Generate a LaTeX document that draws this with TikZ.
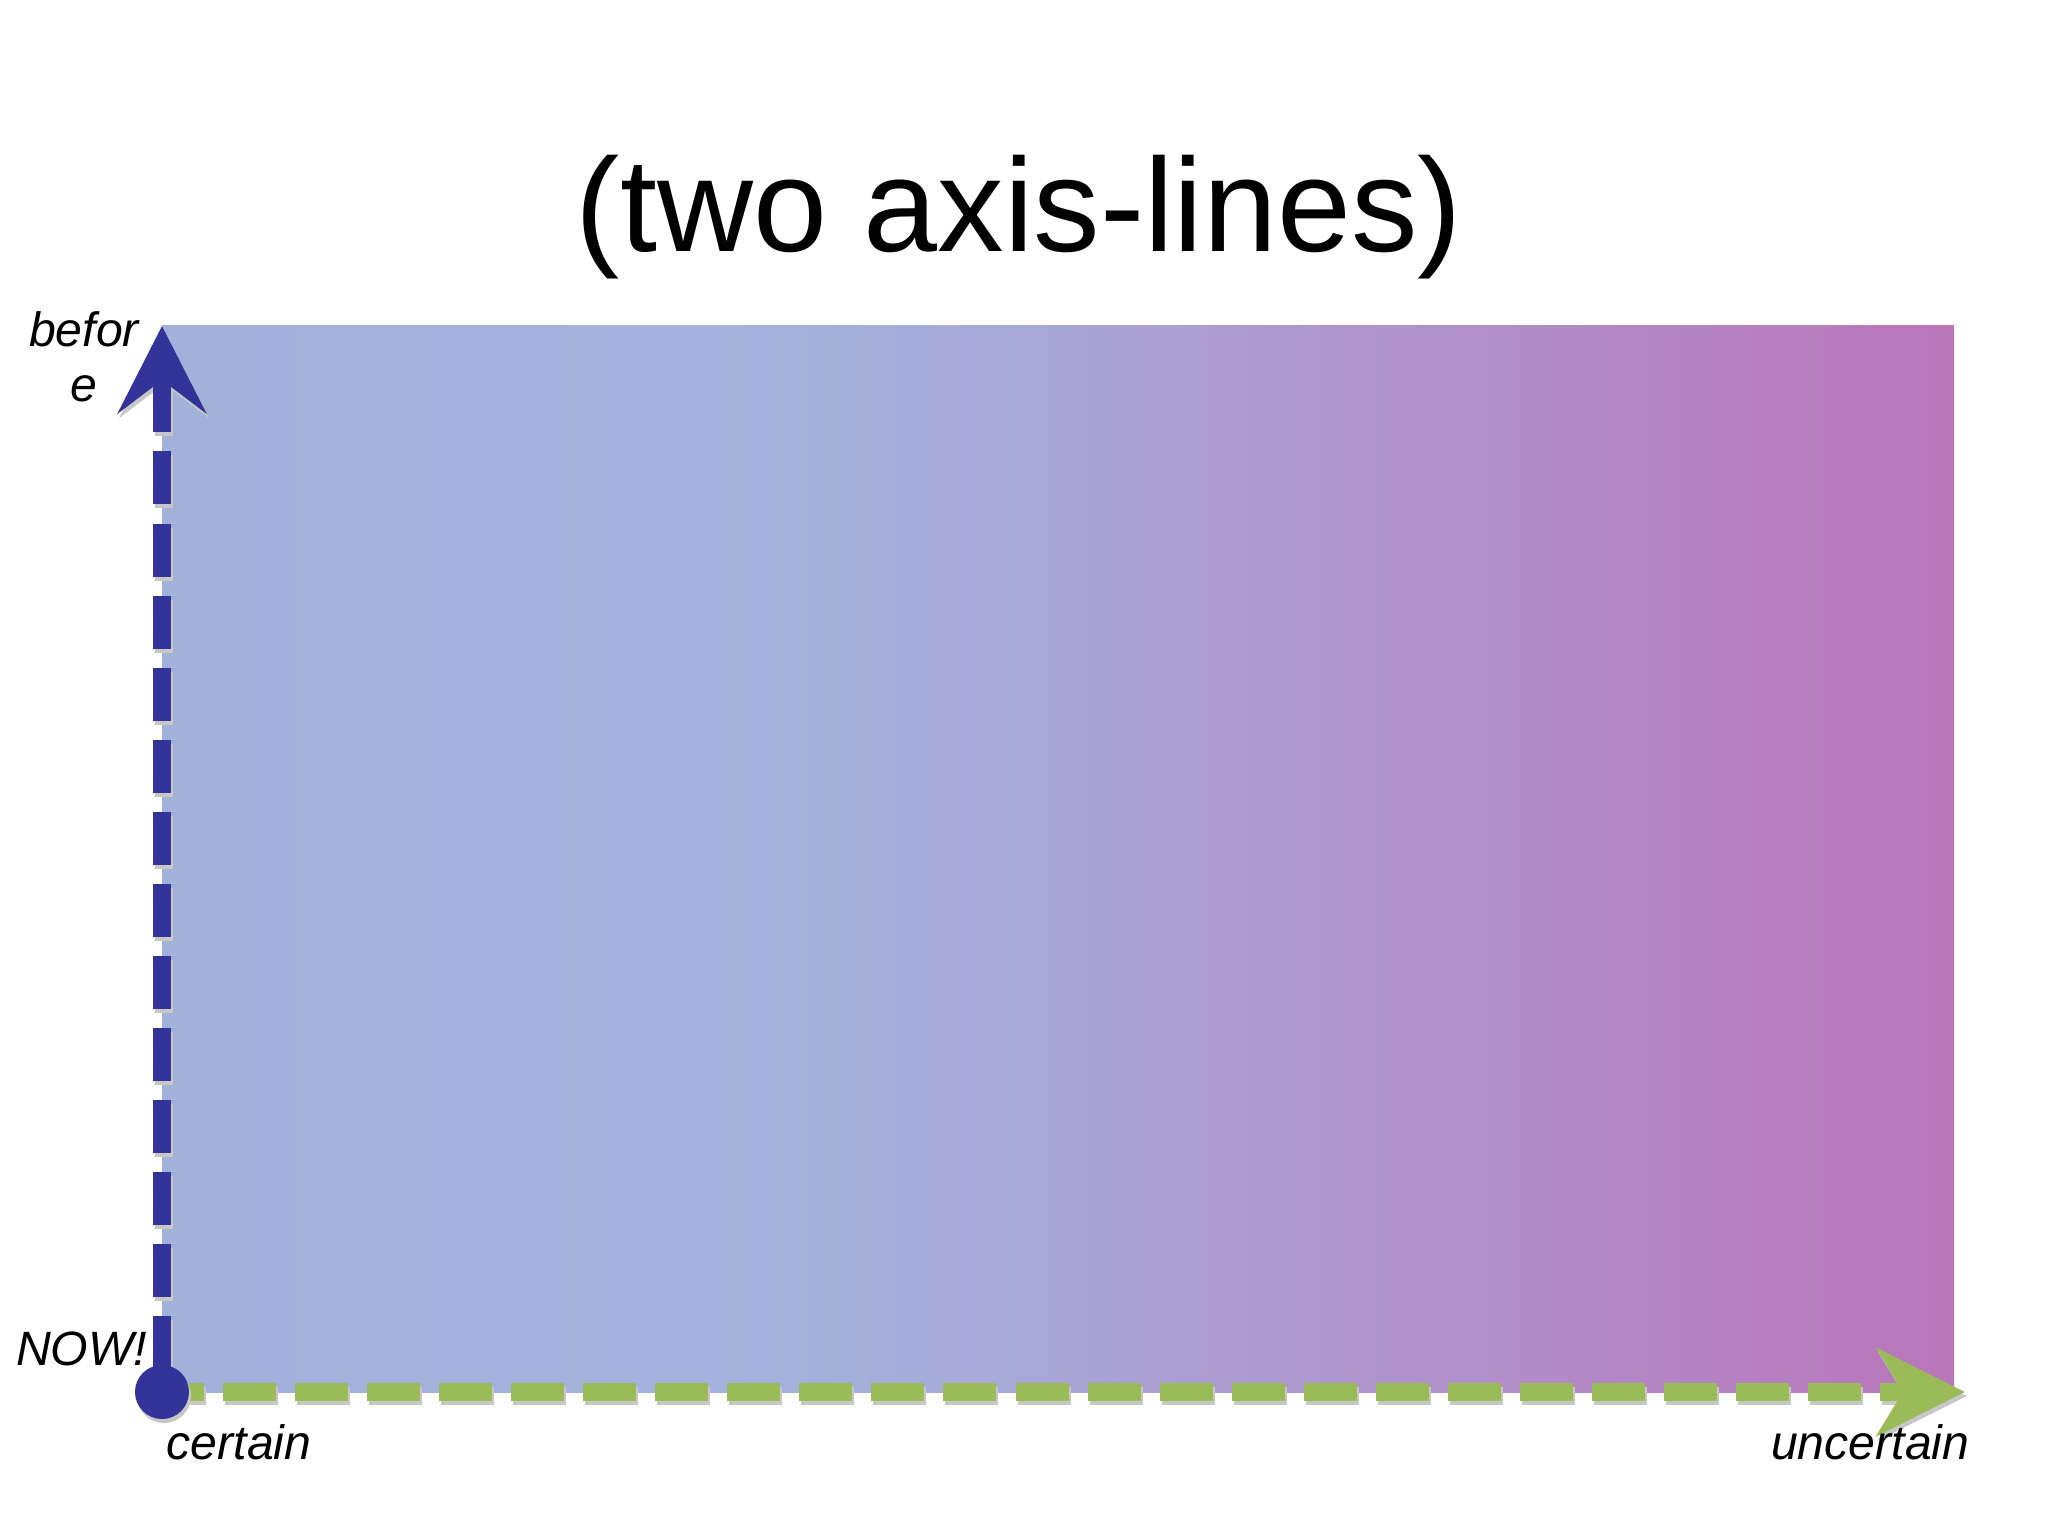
\documentclass[tikz,border=0pt]{standalone}
\usepackage{fontspec}
\setmainfont{Liberation Sans}
\usepackage{xcolor}
\usetikzlibrary{arrows.meta}

\definecolor{axisblue}{HTML}{333399}
\definecolor{axisgreen}{HTML}{9BBB59}
\definecolor{fadeblue}{HTML}{A1B1DA}
\definecolor{fadebluetwo}{HTML}{A4B3DD}
\definecolor{fademid}{HTML}{A7A9D7}
\definecolor{fadelilac}{HTML}{AE98CC}
\definecolor{fadepurple}{HTML}{B976B8}

\pgfdeclarehorizontalshading{timefade}{100bp}{color(0bp)=(fadeblue); color(25bp)=(fadeblue); color(40bp)=(fadebluetwo); color(48.5bp)=(fademid); color(57bp)=(fadelilac); color(75bp)=(fadepurple); color(100bp)=(fadepurple)}

\begin{document}
\begin{tikzpicture}[x=0.01cm,y=-0.01cm]
\tikzset{every node/.style={inner sep=0pt}}
\tikzset{axisline/.style={line width=0.18cm, dash pattern=on 0.53cm off 0.19cm},
  axisshadow/.style={axisline, draw=black!22},
  axislabel/.style={font=\fontsize{13.7}{15.6}\selectfont\itshape, anchor=base}}
\useasboundingbox (0,0) rectangle (2048,1536);
% shaded field
\shade[shading=timefade] (162,325) rectangle (1954,1392);
\coordinate (origin) at (162,1392);
\coordinate (beforetip) at (162,326);
\coordinate (uncertaintip) at (1965,1392);
% shadows
\draw [axisshadow, dash phase=0.11cm, -{Stealth[length=0.88cm, width=0.87cm, inset=0.26cm]}] ([shift={(2,4)}]origin) -- ([shift={(2,4)}]uncertaintip);
\draw [axisshadow, dash phase=0.49cm, -{Stealth[length=0.87cm, width=0.88cm, inset=0.33cm]}] ([shift={(2,4)}]origin) -- ([shift={(2,4)}]beforetip);
% axes
\draw [axisline, axisgreen, dash phase=0.11cm, -{Stealth[length=0.88cm, width=0.87cm, inset=0.26cm]}] (origin) -- (uncertaintip);
\draw [axisline, axisblue, dash phase=0.49cm, -{Stealth[length=0.87cm, width=0.88cm, inset=0.33cm]}] (origin) -- (beforetip);
\node [circle, fill=black!22, minimum size=0.54cm] (nowshadow) at ([shift={(2,4)}]origin) {};
\node [circle, fill=axisblue, minimum size=0.54cm] (now) at (origin) {};
% labels
\node [font=\fontsize{37.8}{45}\selectfont, anchor=base] (title) at (1019,251) {(two axis-lines)};
\node [axislabel, align=center] (beforelabel) at (84,401) {befor\\e};
\node [axislabel, anchor=base east] (nowlabel) at (148,1365) {NOW!};
\node [axislabel, anchor=base west] (certainlabel) at (166,1459) {certain};
\node [axislabel, anchor=base east] (uncertainlabel) at (1970,1459) {uncertain};
\end{tikzpicture}
\end{document}
